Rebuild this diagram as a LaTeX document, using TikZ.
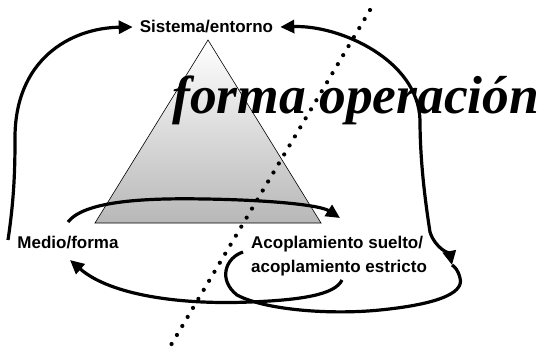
\documentclass[tikz,border=0pt]{standalone}
\usepackage{fontspec}
\setmainfont{Liberation Serif}
\setsansfont{Liberation Sans}
\usepackage{tikz}
\usetikzlibrary{arrows.meta, calc}

\tikzset{
	lbl/.style={font=\sffamily\bfseries\fontsize{17}{24}\selectfont, inner sep=0pt},
	flow/.style={line width=3.2pt, -{Triangle[length=14pt,width=13pt]}},
	dotline/.style={line width=4.2pt, line cap=round, dash pattern=on 0pt off 10.5pt}
}

\begin{document}
\begin{tikzpicture}[x=1pt, y=-1pt]
	\useasboundingbox (0,0) rectangle (538,353);

	% triangle
	\coordinate (apex)  at (208,40);
	\coordinate (right) at (321,223);
	\coordinate (left)  at (95,223);
	\shade[top color=white, bottom color=black!28, draw=black, line width=0.6pt]
		(apex) -- (right) -- (left) -- cycle;

	\node[font=\rmfamily\bfseries\itshape\fontsize{53.5}{60}\selectfont, inner sep=0pt,
		anchor=base west] (title) at (172,113) {forma operación};

	\node[lbl, anchor=base, inner xsep=7pt] (sys) at (206.5,33) {Sistema/entorno};
	\node[lbl, anchor=base] (medio) at (68,248) {Medio/forma};
	\node[lbl, anchor=west, align=left] (acop) at (251,256)
		{Acoplamiento suelto/\\acoplamiento estricto};

	\coordinate (dtop) at (370,10);
	\coordinate (dbot) at (168,350);
	\draw[dotline] (dtop) -- (dbot);

	\coordinate (lend)   at (8,240);
	\coordinate (mtop)   at (68,222);
	\coordinate (abot)   at (342,280);
	\coordinate (aleft)  at (243,252);
	\coordinate (rtip)   at (452,265);
	\coordinate (btip)   at (340,218);
	\coordinate (mtip)   at (70,260);

	\draw[flow] (lend) .. controls (14,200) and (15,170) .. (15,140)
		.. controls (14,60) and (70,28) .. (sys.west);
	\draw[flow, {Triangle[length=14pt,width=13pt]}-{Triangle[length=14pt,width=13pt]}]
		(rtip) .. controls (450,255) and (435,248) .. (430,232)
		.. controls (425,200) and (420,160) .. (420,120)
		.. controls (418,60) and (340,25) .. (sys.east);
	\draw[line width=3.2pt] (aleft) .. controls (225,258) and (218,280) .. (237,295)
		.. controls (265,310) and (330,315) .. (380,310)
		.. controls (430,305) and (465,295) .. (460,278)
		.. controls (458,270) and (455,267) .. (rtip);
	\draw[flow] (abot) .. controls (335,295) and (300,300) .. (250,302)
		.. controls (180,305) and (110,295) .. (mtip);
	\draw[flow] (mtop) .. controls (85,200) and (150,198) .. (205,199)
		.. controls (270,200) and (320,205) .. (btip);
\end{tikzpicture}
\end{document}
